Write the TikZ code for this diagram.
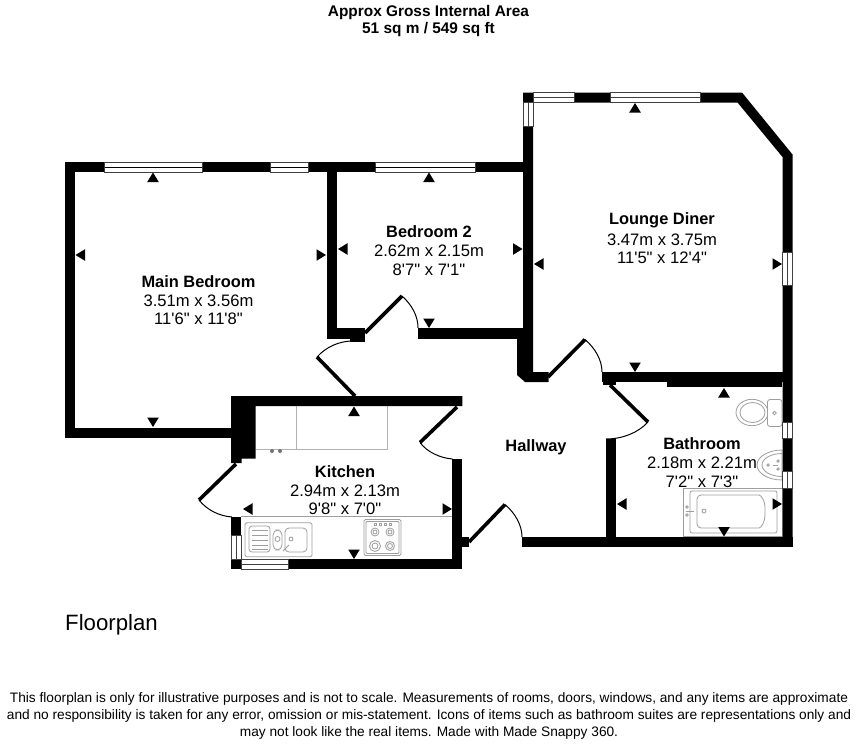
\documentclass[tikz,border=0pt]{standalone}
\usepackage{fontspec}
\setmainfont{Liberation Sans}
\newcommand{\qs}{\textquotesingle}
\newcommand{\qd}{\textquotedbl}
\newcommand{\tU}[2]{\fill[black] (#1,#2) -- ++(5.8,9.5) -- ++(-11.6,0) -- cycle;}
\newcommand{\tD}[2]{\fill[black] (#1,#2) -- ++(5.8,-9.5) -- ++(-11.6,0) -- cycle;}
\newcommand{\tL}[2]{\fill[black] (#1,#2) -- ++(9.5,5.8) -- ++(0,-11.6) -- cycle;}
\newcommand{\tR}[2]{\fill[black] (#1,#2) -- ++(-9.5,5.8) -- ++(0,-11.6) -- cycle;}
\tikzset{
  wall/.style={fill=black,draw=none},
  leaf/.style={draw=black,line width=3.6pt},
  swing/.style={draw=black,line width=1pt},
  winpane/.style={fill=white,draw=black!75,line width=0.9pt},
  fixture/.style={draw=black!38,line width=0.8pt,fill=white},
  fixline/.style={draw=black!38,line width=0.8pt},
  roomname/.style={font=\fontsize{16.4}{19}\selectfont\bfseries,inner sep=0pt},
  roomdim/.style={font=\fontsize{16.6}{19}\selectfont,inner sep=0pt},
  heading/.style={font=\fontsize{15.4}{17}\selectfont\bfseries,inner sep=0pt},
  smallnote/.style={font=\fontsize{13.7}{16.5}\selectfont,inner sep=0pt,align=center}
}
\begin{document}
\begin{tikzpicture}[x=1pt,y=-1pt]
\useasboundingbox (0,0) rectangle (856,744);
% ---- fixtures first
\draw[fixline,draw=black!30] (256,449) -- (387,449) -- (387,406);
\draw[fixline,draw=black!30] (296,406) -- (296,449);
\fill[black!55] (272,451) circle (2); \fill[black!55] (280,451) circle (2);
\draw[fixline] (241,516.5) -- (452,516.5);
% sink
\draw[fixture,rounded corners=1.5pt] (245,522.7) rectangle (312,556.7);
\draw[fixline,rounded corners=3pt] (249,526) rectangle (270,552);
\foreach \yy in {530,535,540,545,549} {\draw[fixline] (252,\yy) -- (268,\yy);}
\draw[fixline,rounded corners=5pt] (273,530) rectangle (282,550);
\draw[fixline] (277.5,539) circle (2.5);
\draw[fixline,rounded corners=4pt] (285,528) rectangle (307,552);
\draw[fixline] (291,539) circle (2);
\draw[fixline] (283,551) -- (289,545);
% hob
\draw[fixture,rounded corners=1.5pt] (364,519.5) rectangle (401,555.5);
\draw[fixline,rounded corners=1pt] (366,521.5) rectangle (399,553.5);
\foreach \xx in {374,379,384,389} {\draw[fixline] (\xx,523) rectangle +(2,2);}
\draw[fixline] (375,532) circle (4); \draw[fixline] (375,532) circle (2);
\draw[fixline] (390,532) circle (4); \draw[fixline] (390,532) circle (2);
\draw[fixline] (375,546) circle (5.5); \draw[fixline] (375,546) circle (3);
\draw[fixline] (390,546) circle (4.5); \draw[fixline] (390,546) circle (2.5);
% toilet
\draw[fixture] (752,412.5) ellipse (16 and 13.2);
\draw[fixline] (752.5,412.5) ellipse (12.5 and 10);
\draw[fixture,rounded corners=2.5pt] (767.5,399.5) rectangle (782,426.5);
\draw[fixline] (774.5,413) circle (1.8);
% basin
\draw[fixture] (782,450) arc (-90:-270:25 and 15) -- cycle;
\draw[fixline] (782,453.5) arc (-90:-270:20 and 11.5);
\draw[fixline] (768,465) circle (1.2); \draw[fixline] (778,465) -- (773,465);
\draw[fixline] (778,461) circle (1.2); \draw[fixline] (778,469) circle (1.2);
% bath
\draw[fixture] (683.5,488) rectangle (782,536);
\draw[fixline,rounded corners=2pt] (690,491) rectangle (777,533);
\draw[fixline,rounded corners=4pt] (697,495) -- (755,495) .. controls (761,495) and (765,501) .. (765,511) .. controls (765,522) and (761,528) .. (755,528) -- (697,528) -- cycle;
\draw[fixline] (704,511) circle (2);
\draw[fixline] (686,511) -- (694,511);
\draw[fixline] (687,507) circle (1.3); \draw[fixline] (687,515) circle (1.3);
% ---- walls
\fill[wall] (65,162) rectangle (523,172);
\fill[wall] (65,162) rectangle (75,437.5);
\fill[wall] (65,427.5) rectangle (232,437.5);
\fill[wall] (327,162) rectangle (337,339);
\fill[wall] (327,328) rectangle (365,339);
\fill[wall] (350,339) rectangle (365,341.5);
\fill[wall] (418,328) rectangle (533,339);
% lounge
\fill[wall] (523,92.5) -- (742,92.5) -- (792.5,154.5) -- (792.5,546.7) -- (782.5,546.7) -- (782.5,157) -- (737.5,102.5) -- (533,102.5) -- (533,372) -- (548.5,372) -- (548.5,382) -- (525,382) -- (517,375) -- (517,339) -- (523,339) -- cycle;
\fill[wall] (602,372) rectangle (792,382);
\fill[wall] (603,382) rectangle (616,385);
\fill[wall] (667,382) rectangle (782,387);
% bathroom / hall
\fill[wall] (522,536.7) rectangle (792.5,546.7);
\fill[wall] (606,438.5) rectangle (616,546.7);
\fill[wall] (452,536.7) rectangle (469,546.7);
% kitchen
\fill[wall] (231,396) -- (462.3,396) -- (462.3,406) -- (255.7,406) -- (255.7,458.5) -- (241.7,458.5) -- (241.7,463) -- (231,463) -- cycle;
\fill[wall] (452.3,459) rectangle (462.3,569);
\fill[wall] (231,559.3) rectangle (462.3,569);
\fill[wall] (231,516.7) rectangle (241,569);
% ---- windows
\foreach \a/\b in {104.5/202,270.7/308,375/475}{
  \draw[winpane] (\a,162) rectangle (\b,172);
  \draw[black,line width=0.9pt] (\a,167) -- (\b,167);}
\foreach \a/\b in {533.3/574.3,610.7/700.7}{
  \draw[winpane] (\a,92.5) rectangle (\b,102.5);
  \draw[black!75,line width=0.9pt] (\a,97.5) -- (\b,97.5);}
\draw[winpane] (523,102.5) rectangle (533,126.7);
\draw[black!75,line width=0.9pt] (528,102.5) -- (528,126.7);
\foreach \a/\b in {252.7/285,422/438,471.7/488}{
  \draw[winpane] (782.5,\a) rectangle (792.5,\b);
  \draw[black!75,line width=0.9pt] (787.5,\a) -- (787.5,\b);}
\draw[winpane] (231,535) rectangle (241,559.3);
\draw[black!75,line width=0.9pt] (236,535) -- (236,559.3);
\draw[winpane] (241.7,559.3) rectangle (288.3,569);
\draw[black!75,line width=0.9pt] (241.7,564) -- (288.3,564);
% ---- doors
\draw[leaf] (365,333) -- (402,296);
\draw[swing] (402,296) .. controls (412,305) and (418,316) .. (418,328);
\draw[leaf] (355,396) -- (317,357);
\draw[swing] (317,357) .. controls (326,347) and (339,341) .. (353,341);
\draw[leaf] (548,377) -- (585,339.5);
\draw[swing] (585,339.5) .. controls (595,348) and (602,360) .. (602,372);
\draw[leaf] (469,542) -- (505,504.5);
\draw[swing] (505,504.5) .. controls (515,513) and (522,525) .. (522,537);
\draw[leaf] (236,464) -- (199,500);
\draw[swing] (199,500) .. controls (207,510) and (219,516) .. (232,517);
\draw[leaf] (457,407) -- (420,442.5);
\draw[swing] (420,442.5) .. controls (427,452) and (440,458) .. (452.5,459);
\draw[leaf] (610,385) -- (648,422);
\draw[swing] (648,422) .. controls (638,433) and (622,439) .. (606,439);
% ---- dimension arrows
\tU{153}{172.5} \tL{75.5}{255} \tR{326}{255} \tD{153}{427}
\tU{429}{172.5} \tL{338}{249} \tR{522.5}{249} \tD{429}{328}
\tU{635}{103} \tL{534}{264} \tR{782}{264} \tD{635}{372}
\tU{354}{406.5} \tL{243}{509} \tR{452}{509} \tD{354}{559}
\tU{724}{388} \tL{617}{504} \tR{782}{504} \tD{724}{536.5}
% ---- text
\node[heading] (t1) at (428.5,13) {Approx Gross Internal Area};
\node[heading] (t2) at (428.5,30) {51 sq m / 549 sq ft};
\node[roomname] (r1) at (198.5,281.5) {Main Bedroom};
\node[roomdim] (r1a) at (198.5,300.5) {3.51m x 3.56m};
\node[roomdim] (r1b) at (198.5,318.5) {11\qs6\qd{} x 11\qs8\qd};
\node[roomname] (r2) at (429,232) {Bedroom 2};
\node[roomdim] (r2a) at (429,250.5) {2.62m x 2.15m};
\node[roomdim] (r2b) at (429,269.5) {8\qs7\qd{} x 7\qs1\qd};
\node[roomname] (r3) at (662,220.5) {Lounge Diner};
\node[roomdim] (r3a) at (662,239.5) {3.47m x 3.75m};
\node[roomdim] (r3b) at (662,257.5) {11\qs5\qd{} x 12\qs4\qd};
\node[roomname] (r4) at (536,447) {Hallway};
\node[roomname] (r5) at (345,471.5) {Kitchen};
\node[roomdim] (r5a) at (345,490.5) {2.94m x 2.13m};
\node[roomdim] (r5b) at (345,508.5) {9\qs8\qd{} x 7\qs0\qd};
\node[roomname] (r6) at (702,443.5) {Bathroom};
\node[roomdim] (r6a) at (702,462.5) {2.18m x 2.21m};
\node[roomdim] (r6b) at (702,481.5) {7\qs2\qd{} x 7\qs3\qd};
\node[anchor=west,inner sep=0pt,font=\fontsize{22.2}{24}\selectfont] (fp) at (65,625) {Floorplan};
\node[smallnote] (n1) at (429,699) {This floorplan is only for illustrative purposes and is not to scale. Measurements of rooms, doors, windows, and any items are approximate};
\node[smallnote] (n2) at (429,716) {and no responsibility is taken for any error, omission or mis-statement. Icons of items such as bathroom suites are representations only and};
\node[smallnote] (n3) at (429,732.5) {may not look like the real items. Made with Made Snappy 360.};
\end{tikzpicture}
\end{document}
